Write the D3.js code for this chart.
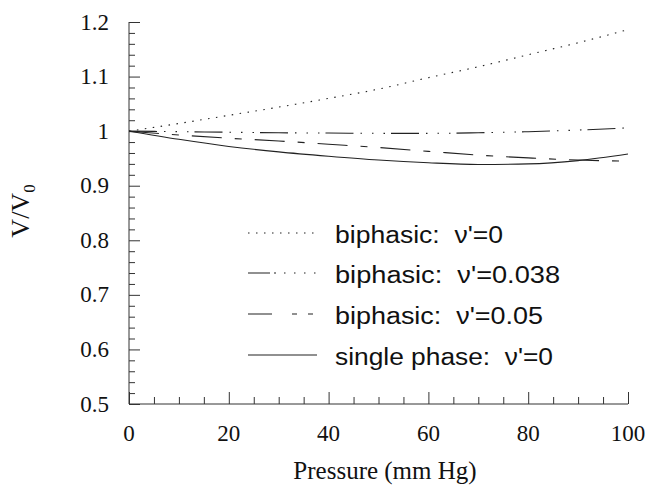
<!DOCTYPE html>
<html><head><meta charset="utf-8">
<script src="https://cdn.jsdelivr.net/npm/d3@7"></script>
<style>body{margin:0;background:#fff}</style>
</head><body>
<svg id="chart" width="649" height="485"></svg>
<script>
const pressure = [0, 10, 20, 30, 40, 50, 60, 70, 80, 90, 100];
const biphasic0 = [1.0, 1.014, 1.029, 1.044, 1.060, 1.077, 1.098, 1.118, 1.140, 1.162, 1.186];
const biphasic038 = [1.0, 0.999, 0.998, 0.997, 0.9965, 0.996, 0.996, 0.997, 0.999, 1.002, 1.006];
const biphasic05 = [1.0, 0.993, 0.987, 0.982, 0.976, 0.970, 0.963, 0.956, 0.951, 0.947, 0.945];
const singlePhase = [1.0, 0.985, 0.972, 0.962, 0.954, 0.947, 0.942, 0.939, 0.940, 0.946, 0.958];
const seriesNames = ["biphasic:  \u03bd'=0", "biphasic:  \u03bd'=0.038", "biphasic:  \u03bd'=0.05", "single phase:  \u03bd'=0"];
const xTicks = [0, 20, 40, 60, 80, 100];
const yTicks = [0.5, 0.6, 0.7, 0.8, 0.9, 1, 1.1, 1.2];

const series = [biphasic0, biphasic038, biphasic05, singlePhase];
const dashes = ["1.5,6.5", "28,7,1.5,10,1.5,10,1.5,6", "30,13,7,13", null];
const legendDashes = ["1.5,6.5", "22,4,2,8,1.5,8.5,1.5,8.5,1.5,8.5,1.5,20", "24,20,5,11,5,20", null];
const legendWidths = [168, 225, 208, 218];

const svg = d3.select("#chart");
const x = d3.scaleLinear().domain([0, 100]).range([129, 628]);
const y = d3.scaleLinear().domain([0.5, 1.2]).range([404, 22]);
const axisColor = "#333";
const serif = "'Liberation Serif', 'Times New Roman', serif";

// axes with minor ticks
const xAxis = d3.axisBottom(x).tickValues(d3.range(0, 101, 5)).tickSizeInner(-7).tickSizeOuter(0).tickFormat("");
const gx = svg.append("g").attr("transform", "translate(0,404)").call(xAxis);
gx.selectAll(".tick line").filter(d => d % 20 === 0).attr("y2", -12);
gx.selectAll("line,path").attr("stroke", axisColor);
gx.select(".domain").attr("d", `M${x(0)},0H${x(100)}`);

const yAxis = d3.axisLeft(y).tickValues(d3.range(0, 36).map(i => +(0.5 + i * 0.02).toFixed(2))).tickSizeInner(-6).tickSizeOuter(0).tickFormat("");
const gy = svg.append("g").attr("transform", "translate(129,0)").call(yAxis);
gy.selectAll(".tick line").filter(d => Math.abs(d * 10 - Math.round(d * 10)) < 1e-6).attr("x2", 11);
gy.selectAll("line,path").attr("stroke", axisColor);
gy.select(".domain").attr("d", `M0,${y(0.5)}V${y(1.2)}`);

// tick labels
svg.append("g").selectAll("text").data(xTicks).join("text")
  .attr("x", d => x(d)).attr("y", 441).attr("text-anchor", "middle")
  .attr("font-family", serif).attr("font-size", 23)
  .attr("fill", "#111").text(d => d);
svg.append("g").selectAll("text").data(yTicks).join("text")
  .attr("x", 109).attr("y", d => y(d) + 7.5).attr("text-anchor", "end")
  .attr("font-family", serif).attr("font-size", 23)
  .attr("fill", "#111").text(d => d);

// axis titles
svg.append("text").attr("x", 385).attr("y", 479).attr("text-anchor", "middle")
  .attr("font-family", serif).attr("font-size", 25)
  .attr("fill", "#111").text("Pressure (mm Hg)");
const yl = svg.append("text").attr("transform", "translate(29,211) rotate(-90)").attr("text-anchor", "middle")
  .attr("font-family", serif).attr("font-size", 26).attr("fill", "#111");
yl.append("tspan").text("V/V");
yl.append("tspan").attr("font-size", 17).attr("dy", 6).text("0");

// lines
const line = d3.line().x((d, i) => x(pressure[i])).y(d => y(d)).curve(d3.curveMonotoneX);
series.forEach((s, k) => {
  svg.append("path").datum(s).attr("d", line).attr("fill", "none")
    .attr("stroke", "#222").attr("stroke-width", 1.1)
    .attr("stroke-dasharray", dashes[k]);
});

// legend
const legY = [233, 273, 314, 355];
seriesNames.forEach((name, k) => {
  svg.append("line").attr("x1", 248).attr("x2", 317).attr("y1", legY[k]).attr("y2", legY[k])
    .attr("stroke", "#222").attr("stroke-width", 1.1).attr("stroke-dasharray", legendDashes[k]);
  svg.append("text").attr("x", 335).attr("y", legY[k] + 10)
    .attr("font-family", "'Liberation Sans', Arial, sans-serif").attr("font-size", 23)
    .attr("textLength", legendWidths[k]).attr("lengthAdjust", "spacingAndGlyphs")
    .attr("fill", "#111").style("white-space", "pre").text(name);
});
</script>
</body></html>
